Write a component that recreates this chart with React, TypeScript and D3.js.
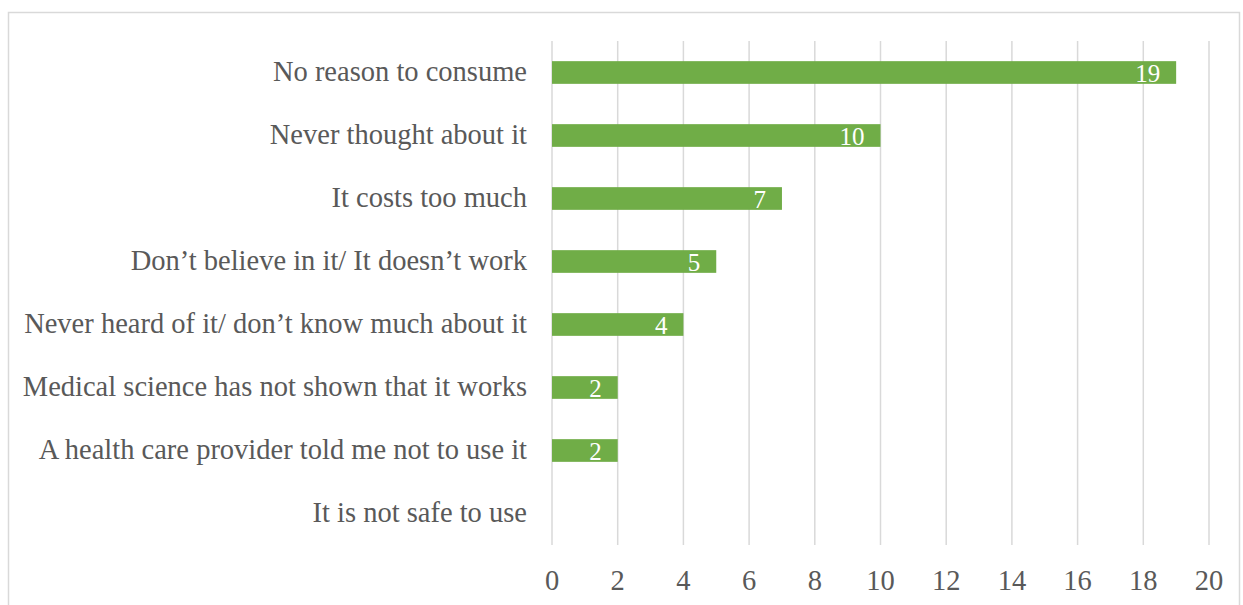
import React from "react";
import * as d3 from "d3";

const categories = [
  "No reason to consume",
  "Never thought about it",
  "It costs too much",
  "Don\u2019t believe in it/ It doesn\u2019t work",
  "Never heard of it/ don\u2019t know much about it",
  "Medical science has not shown that it works",
  "A health care provider told me not to use it",
  "It is not safe to use",
];
const values = [19, 10, 7, 5, 4, 2, 2, 0];
const ticks = [0, 2, 4, 6, 8, 10, 12, 14, 16, 18, 20];

export default function App() {
  const W = 1243, H = 605;
  const x = d3.scaleLinear().domain([0, 20]).range([552, 1209]);
  const y = d3.scaleBand<string>().domain(categories).range([41, 545]).paddingInner(0.64).paddingOuter(0.32);
  const font = "'Liberation Serif', 'Times New Roman', serif";
  return (
    <svg width={W} height={H} style={{ position: "absolute", left: 0, top: 0 }}>
      <rect x={0} y={0} width={W} height={H} fill="#fff" />
      <rect x={8.5} y={12.5} width={1231} height={600} fill="#fff" stroke="#d9d9d9" strokeWidth={1.5} />
      {ticks.map((t) => (
        <line key={t} x1={x(t)} x2={x(t)} y1={41} y2={545} stroke="#d9d9d9" strokeWidth={1.5} />
      ))}
      {ticks.map((t) => (
        <text key={"t" + t} x={x(t)} y={590} textAnchor="middle" fontFamily={font} fontSize={28.5} fill="#595959">
          {t}
        </text>
      ))}
      {categories.map((c, i) => (
        <g key={c}>
          <text x={527} y={y(c)! + y.bandwidth() / 2 + 8} textAnchor="end" fontFamily={font} fontSize={28.5} fill="#595959">
            {c}
          </text>
          {values[i] > 0 && (
            <>
              <rect x={x(0)} y={y(c)!} width={x(values[i]) - x(0)} height={y.bandwidth()} fill="#70ad47" />
              <text x={x(values[i]) - 16} y={y(c)! + y.bandwidth() / 2 + 9} textAnchor="end" fontFamily={font} fontSize={25} fill="#fff">
                {values[i]}
              </text>
            </>
          )}
        </g>
      ))}
    </svg>
  );
}
